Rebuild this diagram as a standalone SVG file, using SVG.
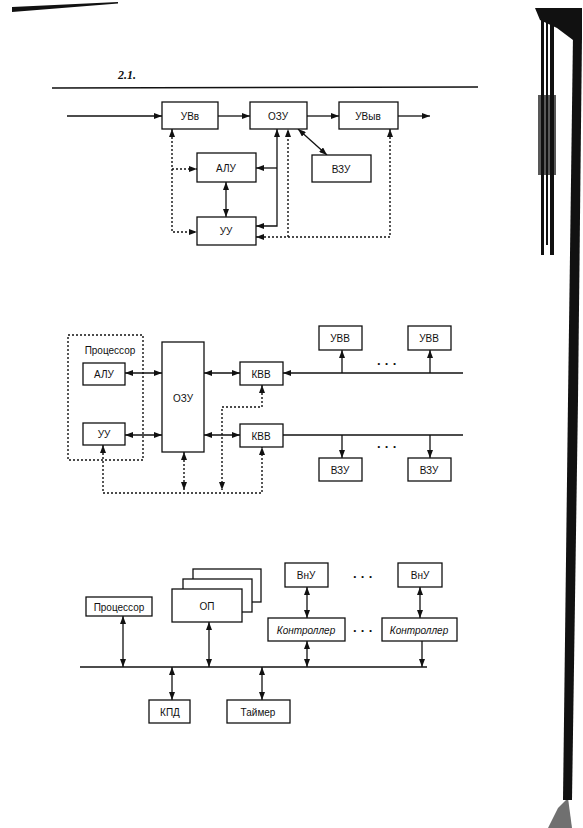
<svg xmlns="http://www.w3.org/2000/svg" width="583" height="828" viewBox="0 0 583 828">
<style>
.b{fill:#fff;stroke:#111;stroke-width:1.3}
.t{font-family:"Liberation Sans",Arial,sans-serif;font-size:10px;fill:#111;text-anchor:middle;dominant-baseline:central}
.i{font-style:italic}
.dots{font-family:"Liberation Sans",Arial,sans-serif;font-size:13px;font-weight:bold;fill:#111;text-anchor:middle;dominant-baseline:central}
.s{fill:none;stroke:#111;stroke-width:1.3}
.d{fill:none;stroke:#111;stroke-width:1.4;stroke-dasharray:2,2}
.se{marker-end:url(#a)}
.ss{marker-start:url(#a)}
</style>
<defs>
<marker id="a" viewBox="0 0 8 6" refX="8" refY="3" markerWidth="8" markerHeight="6" markerUnits="userSpaceOnUse" orient="auto-start-reverse"><path d="M0,0 L8,3 L0,6 z" fill="#111"/></marker>
</defs>
<rect width="583" height="828" fill="#fff"/>
<g id="scan-edge" fill="#111">
<polygon points="12,7 118,2 118,3.5 12,12"/>
<polygon points="535,8 582,8 582,40 573,40 557,28 540,20"/>
<rect x="541" y="15" width="3" height="240"/>
<rect x="546" y="15" width="2" height="230"/>
<rect x="550" y="15" width="4" height="240"/>
<rect x="538" y="95" width="18" height="80" opacity="0.7"/>
<polygon points="573,35 582,35 578,400 572,800 563,800 568,400"/>
<polygon points="548,828 558,808 568,798 572,828" opacity="0.6"/>
</g>
<text x="118" y="79" style="font-family:'Liberation Serif',serif;font-size:12px;font-weight:bold;font-style:italic;fill:#111">2.1.</text>
<path d="M52,88 L478,87" stroke="#111" stroke-width="1.5"/>

<g id="connectors">
<!-- diagram 1 -->
<path class="s se" d="M67,116 H162"/>
<path class="s se" d="M218,116 H250"/>
<path class="s se" d="M307,116 H339"/>
<path class="s se" d="M398,116 H430"/>
<path class="s ss se" d="M277,129 V226 H256"/>
<path class="s se" d="M277,168 H256"/>
<path class="s ss se" d="M226,182 V217"/>
<path class="s ss se" d="M298,129 L327,155"/>
<path class="d ss se" d="M172,129 V232 H197"/>
<path class="d se" d="M172,169 H197"/>
<path class="d ss se" d="M256,237 H390 V129"/>
<path class="d se" d="M288,237 V129"/>
<!-- diagram 2 -->
<path class="s ss se" d="M125,373 H162"/>
<path class="s ss se" d="M125,435 H162"/>
<path class="s ss se" d="M204,373 H240"/>
<path class="s ss se" d="M204,435 H240"/>
<path class="s se" d="M463,373 H283"/>
<path class="s se" d="M342,373 V350"/>
<path class="s se" d="M430,373 V350"/>
<path class="s" d="M283,435 H463"/>
<path class="s se" d="M342,435 V458"/>
<path class="s se" d="M430,435 V458"/>
<path class="d ss se" d="M184,452 V490"/>
<path class="d ss se" d="M103,445 V493 H262 V447"/>
<path class="d ss se" d="M262,385 V407 H222 V490"/>
<!-- diagram 3 -->
<path class="s" d="M80,667 H427"/>
<path class="s ss se" d="M123,616 V667"/>
<path class="s ss se" d="M209,622 V667"/>
<path class="s ss se" d="M172,667 V700"/>
<path class="s ss se" d="M262,667 V700"/>
<path class="s ss se" d="M307,587 V618"/>
<path class="s ss se" d="M420,587 V618"/>
<path class="s ss se" d="M307,641 V667"/>
<path class="s se" d="M422,641 V667"/>
</g>

<g id="n1-uvv"><rect class="b" x="162" y="102" width="56" height="27"/><text class="t" x="190" y="116">УВв</text></g>
<g id="n1-ozu"><rect class="b" x="250" y="102" width="57" height="27"/><text class="t" x="278" y="116">ОЗУ</text></g>
<g id="n1-uvyv"><rect class="b" x="339" y="102" width="59" height="27"/><text class="t" x="368" y="116">УВыв</text></g>
<g id="n1-alu"><rect class="b" x="197" y="153" width="59" height="29"/><text class="t" x="226" y="168">АЛУ</text></g>
<g id="n1-vzu"><rect class="b" x="312" y="155" width="59" height="27"/><text class="t" x="341" y="169">ВЗУ</text></g>
<g id="n1-uu"><rect class="b" x="197" y="217" width="59" height="28"/><text class="t" x="226" y="231">УУ</text></g>

<g id="n2-proc"><rect x="68" y="335" width="75" height="125" fill="none" stroke="#111" stroke-width="1.4" stroke-dasharray="2,2"/><text class="t" x="110" y="350">Процессор</text></g>
<g id="n2-alu"><rect class="b" x="83" y="363" width="42" height="22"/><text class="t" x="104" y="374">АЛУ</text></g>
<g id="n2-uu"><rect class="b" x="83" y="423" width="42" height="22"/><text class="t" x="104" y="434">УУ</text></g>
<g id="n2-ozu"><rect class="b" x="162" y="342" width="42" height="110"/><text class="t" x="183" y="398">ОЗУ</text></g>
<g id="n2-kvv1"><rect class="b" x="240" y="362" width="43" height="23"/><text class="t" x="261" y="374">КВВ</text></g>
<g id="n2-kvv2"><rect class="b" x="240" y="424" width="43" height="23"/><text class="t" x="261" y="436">КВВ</text></g>
<g id="n2-uvv1"><rect class="b" x="319" y="326" width="43" height="24"/><text class="t" x="340" y="338">УВВ</text></g>
<g id="n2-uvv2"><rect class="b" x="408" y="326" width="43" height="24"/><text class="t" x="429" y="338">УВВ</text></g>
<g id="n2-vzu1"><rect class="b" x="319" y="458" width="43" height="23"/><text class="t" x="340" y="470">ВЗУ</text></g>
<g id="n2-vzu2"><rect class="b" x="408" y="458" width="43" height="23"/><text class="t" x="429" y="470">ВЗУ</text></g>
<text class="dots" x="387" y="363">· · ·</text>
<text class="dots" x="387" y="446">· · ·</text>

<g id="n3-proc"><rect class="b" x="86" y="597" width="66" height="19"/><text class="t" x="119" y="607">Процессор</text></g>
<g id="n3-op"><rect class="b" x="193" y="569" width="68" height="33"/><rect class="b" x="183" y="579" width="69" height="33"/><rect class="b" x="172" y="589" width="70" height="33"/><text class="t" x="207" y="606">ОП</text></g>
<g id="n3-kpd"><rect class="b" x="149" y="700" width="41" height="23"/><text class="t" x="170" y="712">КПД</text></g>
<g id="n3-timer"><rect class="b" x="227" y="700" width="63" height="23"/><text class="t" x="258" y="712">Таймер</text></g>
<g id="n3-vnu1"><rect class="b" x="285" y="563" width="43" height="24"/><text class="t" x="306" y="575">ВнУ</text></g>
<g id="n3-vnu2"><rect class="b" x="398" y="563" width="44" height="24"/><text class="t" x="420" y="575">ВнУ</text></g>
<g id="n3-ctrl1"><rect class="b" x="268" y="618" width="77" height="23"/><text class="t i" x="306" y="630">Контроллер</text></g>
<g id="n3-ctrl2"><rect class="b" x="382" y="618" width="75" height="23"/><text class="t i" x="419" y="630">Контроллер</text></g>
<text class="dots" x="363" y="576">· · ·</text>
<text class="dots" x="363" y="630">· · ·</text>
</svg>
